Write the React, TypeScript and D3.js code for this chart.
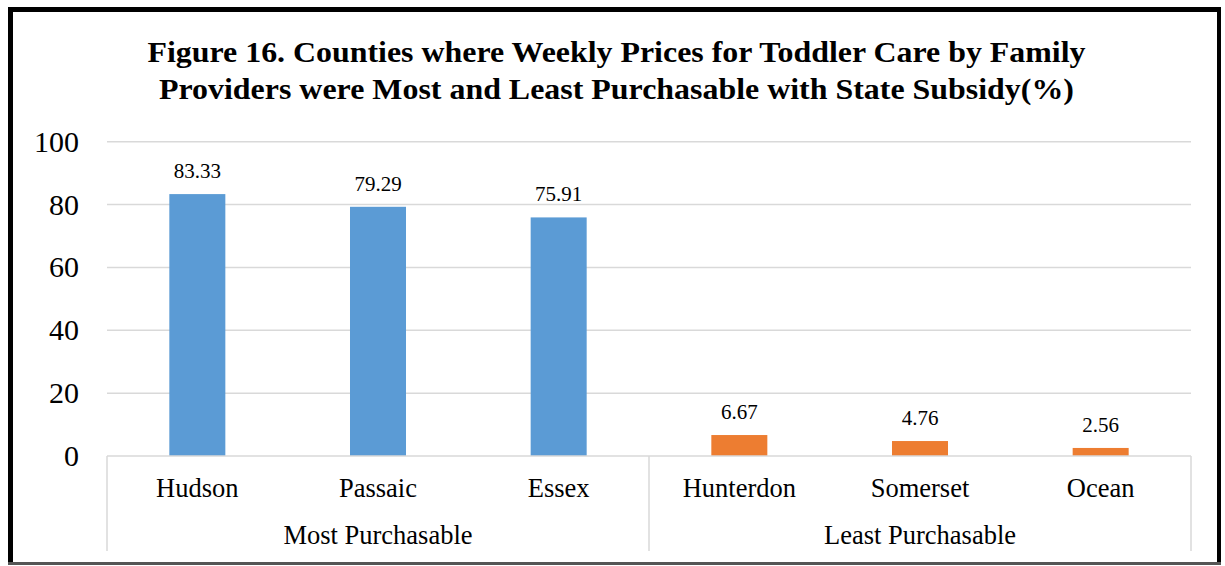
import React from "react";
import * as d3 from "d3";

const categories = ["Hudson", "Passaic", "Essex", "Hunterdon", "Somerset", "Ocean"];
const values = [83.33, 79.29, 75.91, 6.67, 4.76, 2.56];
const groups = ["Most Purchasable", "Least Purchasable"];
const groupOf = [0, 0, 0, 1, 1, 1];
const yTicks = [0, 20, 40, 60, 80, 100];
const titleLines = [
  "Figure 16. Counties where Weekly Prices for Toddler Care by Family",
  "Providers were Most and Least Purchasable with State Subsidy(%)",
];
const titleWidths = [938, 915];
const colors = ["#5B9BD5", "#ED7D31"];

export default function App() {
  const W = 1225, H = 566;
  const left = 107, right = 1191, top = 141.7, bottom = 456;
  const x = d3.scaleBand<string>().domain(categories).range([left, right]).paddingInner(0.69).paddingOuter(0.345);
  const y = d3.scaleLinear().domain([0, 100]).range([bottom, top]);
  const font = "'Liberation Serif', 'Times New Roman', serif";
  const step = (right - left) / categories.length;
  const groupBounds = groups.map((g, gi) => {
    const idx = categories.map((_, i) => i).filter((i) => groupOf[i] === gi);
    return [left + idx[0] * step, left + (idx[idx.length - 1] + 1) * step];
  });
  return (
    <div style={{ position: "fixed", left: 0, top: 0 }}>
      <svg width={W} height={H} style={{ display: "block", background: "#fff" }} fontFamily={font}>
        <rect x={0} y={0} width={W} height={H} fill="#fff" />
        {/* border */}
        <rect x={8} y={7} width={5} height={558} fill="#000" />
        <rect x={8} y={7} width={1213} height={5} fill="#000" />
        <rect x={1217} y={7} width={4} height={558} fill="#000" />
        <rect x={8} y={562} width={1213} height={3} fill="#555" />
        {/* title */}
        {titleLines.map((t, i) => (
          <text
            key={i}
            x={616.5}
            y={61.5 + i * 37.5}
            textAnchor="middle"
            fontWeight="bold"
            fontSize={30}
            fill="#000"
            textLength={titleWidths[i]}
            lengthAdjust="spacingAndGlyphs"
          >
            {t}
          </text>
        ))}
        {/* gridlines */}
        {yTicks.map((t) => (
          <g key={t}>
            {t > 0 && <line x1={left} x2={right} y1={y(t)} y2={y(t)} stroke="#D9D9D9" strokeWidth={1.5} />}
            <text x={79} y={y(t) + 10} textAnchor="end" fontSize={30} fill="#000">
              {t}
            </text>
          </g>
        ))}
        {/* bars */}
        {categories.map((c, i) => (
          <g key={c}>
            <rect x={x(c)} y={y(values[i])} width={x.bandwidth()} height={bottom - y(values[i])} fill={colors[groupOf[i]]} />
            <text x={(x(c) as number) + x.bandwidth() / 2} y={y(values[i]) - 16} textAnchor="middle" fontSize={21} fill="#000">
              {values[i].toFixed(2)}
            </text>
            <text x={(x(c) as number) + x.bandwidth() / 2} y={496.5} textAnchor="middle" fontSize={26.5} fill="#000">
              {c}
            </text>
          </g>
        ))}
        {/* axis */}
        <line x1={left} x2={right} y1={bottom} y2={bottom} stroke="#D9D9D9" strokeWidth={1.5} />
        {[left, groupBounds[0][1], right].map((xx, i) => (
          <line key={i} x1={xx} x2={xx} y1={bottom} y2={551} stroke="#D9D9D9" strokeWidth={1.5} />
        ))}
        {groups.map((g, gi) => (
          <text key={g} x={(groupBounds[gi][0] + groupBounds[gi][1]) / 2} y={544} textAnchor="middle" fontSize={26.5} fill="#000">
            {g}
          </text>
        ))}
      </svg>
    </div>
  );
}
